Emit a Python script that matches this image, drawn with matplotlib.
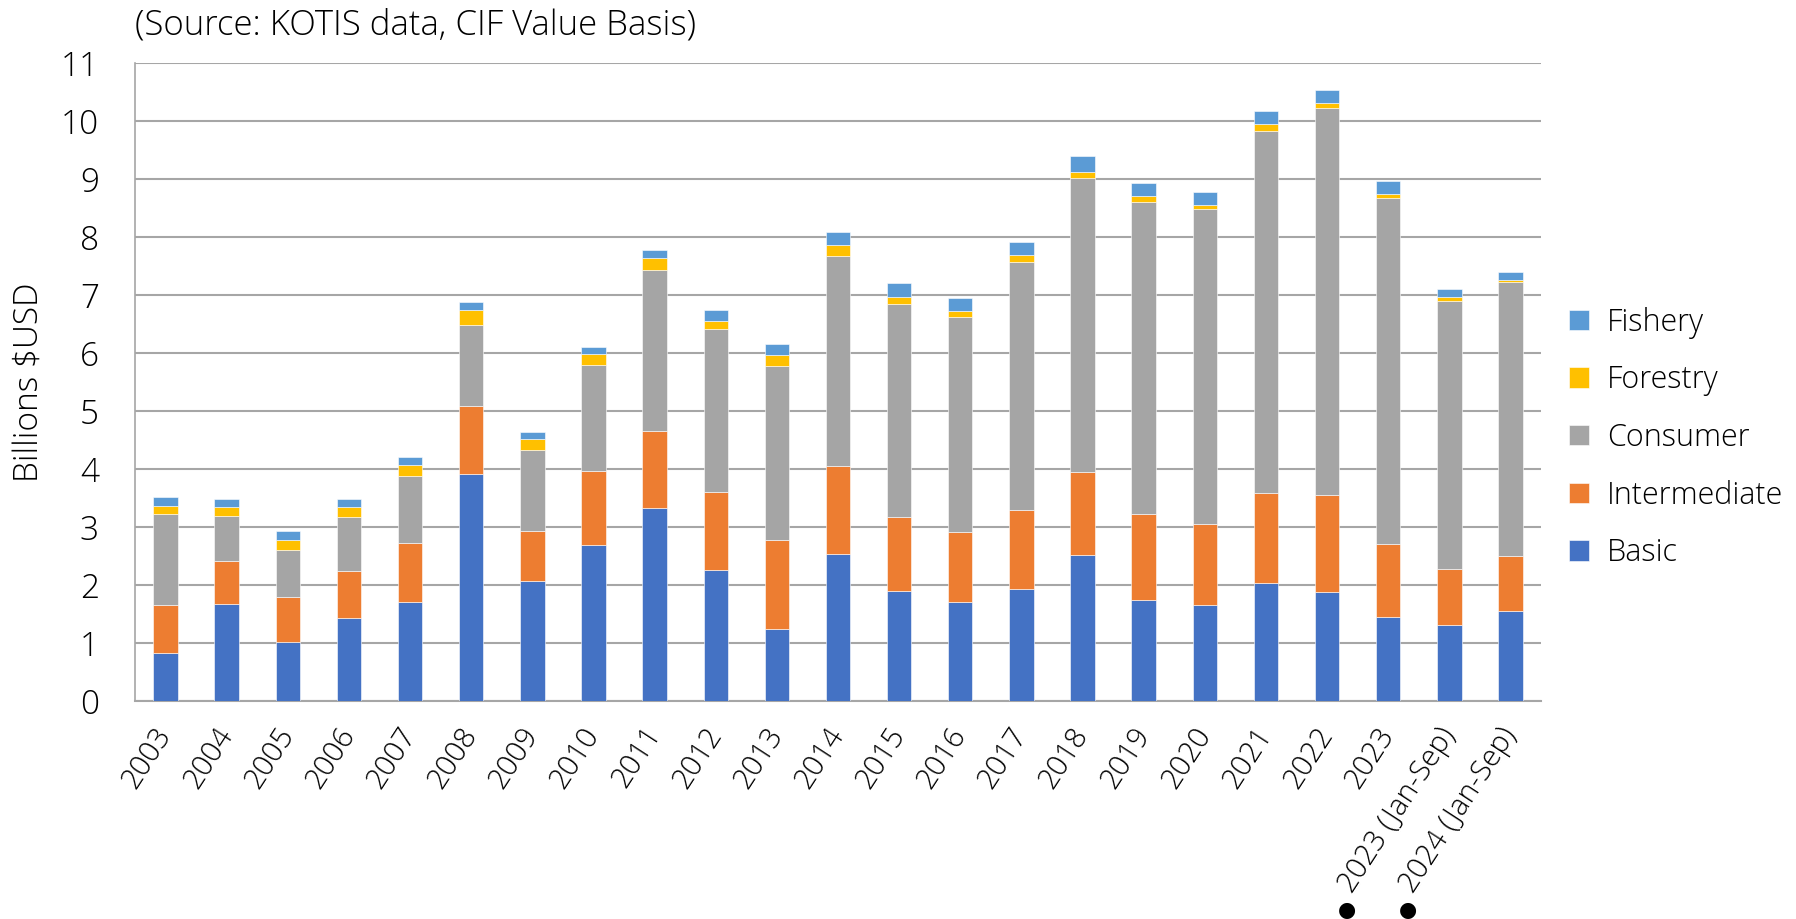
import matplotlib
matplotlib.use("Agg")
import matplotlib.pyplot as plt
import numpy as np

categories = ["2003", "2004", "2005", "2006", "2007", "2008", "2009", "2010", "2011",
              "2012", "2013", "2014", "2015", "2016", "2017", "2018", "2019", "2020",
              "2021", "2022", "2023", "2023 (Jan-Sep)", "2024 (Jan-Sep)"]
bulleted = [False] * 21 + [True, True]

basic = [0.83, 1.67, 1.02, 1.43, 1.71, 3.92, 2.07, 2.69, 3.33, 2.26, 1.24, 2.54, 1.90,
         1.70, 1.93, 2.52, 1.75, 1.65, 2.04, 1.88, 1.44, 1.31, 1.55]
intermediate = [0.83, 0.74, 0.78, 0.81, 1.02, 1.17, 0.86, 1.27, 1.32, 1.34, 1.53, 1.51, 1.28,
                1.22, 1.37, 1.43, 1.48, 1.40, 1.54, 1.68, 1.26, 0.96, 0.95]
consumer = [1.57, 0.78, 0.81, 0.93, 1.15, 1.40, 1.39, 1.83, 2.78, 2.82, 3.00, 3.63, 3.67,
            3.70, 4.27, 5.06, 5.38, 5.44, 6.25, 6.66, 5.98, 4.63, 4.72]
forestry = [0.14, 0.16, 0.17, 0.17, 0.19, 0.26, 0.20, 0.20, 0.20, 0.14, 0.19, 0.18, 0.12,
            0.10, 0.12, 0.11, 0.09, 0.07, 0.11, 0.09, 0.07, 0.06, 0.04]
fishery = [0.15, 0.14, 0.15, 0.14, 0.14, 0.13, 0.11, 0.11, 0.14, 0.18, 0.20, 0.22, 0.24,
           0.23, 0.23, 0.27, 0.23, 0.21, 0.23, 0.23, 0.21, 0.15, 0.14]

series_names = ["Basic", "Intermediate", "Consumer", "Forestry", "Fishery"]
series_values = [basic, intermediate, consumer, forestry, fishery]
colors = ["#4472C4", "#ED7D31", "#A5A5A5", "#FFC000", "#5B9BD5"]

yticks = list(range(0, 12))

plt.rcParams['font.family'] = ['Open Sans', 'DejaVu Sans']

W, H = 1796, 919
fig = plt.figure(figsize=(W / 100, H / 100), dpi=100)
ax = fig.add_axes([135 / W, 1 - 701 / H, (1541 - 135) / W, (701 - 63) / H])

x = np.arange(len(categories))
bottom = np.zeros(len(categories))
handles = []
for name, vals, col in zip(series_names, series_values, colors):
    v = np.array(vals)
    b = ax.bar(x, v, width=0.4, bottom=bottom, color=col, label=name,
               edgecolor="white", linewidth=0.4, zorder=3)
    handles.append(b)
    bottom += v

ax.set_xlim(-0.5, len(categories) - 0.5)
ax.set_ylim(0, 11)
ax.set_yticks(yticks)
ax.set_yticklabels([str(t) for t in yticks], fontsize=24, fontweight='light')
ax.grid(axis='y', color='#A6A6A6', linewidth=1.5, zorder=0)
ax.set_axisbelow(True)
for s in ['top', 'right']:
    ax.spines[s].set_visible(False)
ax.spines['left'].set_color('#A6A6A6')
ax.spines['left'].set_linewidth(1.2)
ax.spines['bottom'].set_color('#A6A6A6')
ax.spines['bottom'].set_linewidth(1.5)
ax.tick_params(axis='y', length=0, pad=26)
ax.tick_params(axis='x', length=0, pad=0)

ax.set_xticks(x)
ax.set_xticklabels(categories, rotation=57, ha='right', va='center',
                   rotation_mode='anchor', fontsize=21, fontweight='light')
for lbl in ax.get_xticklabels():
    lbl.set_y(-0.045)

# list bullets in front of the partial-year labels
for i, flag in enumerate(bulleted):
    if flag:
        ax.annotate("\u25CF", xy=(i, 0), xycoords=('data', 'axes fraction'),
                    xytext=(-102 * 0.72, -209 * 0.72), textcoords='offset points',
                    ha='center', va='center', fontsize=15, family=['DejaVu Sans'],
                    annotation_clip=False)

ax.set_ylabel("Billions $USD", fontsize=24, fontweight='light')
ax.yaxis.set_label_coords((46 - 135) / (1541 - 135), 0.5)

fig.text(135 / W, 1 - 25 / H, "(Source: KOTIS data, CIF Value Basis)", fontsize=25,
         fontweight='light', ha='left', va='center')

leg = fig.legend(handles[::-1], series_names[::-1], loc='center left',
                 bbox_to_anchor=(1569 / W, 1 - 438 / H), frameon=False, fontsize=22,
                 handlelength=0.65, handleheight=0.65, handletextpad=0.59,
                 labelspacing=0.84, borderpad=0, borderaxespad=0)
for t in leg.get_texts():
    t.set_fontweight('light')

fig.savefig("out.png", dpi=100)
